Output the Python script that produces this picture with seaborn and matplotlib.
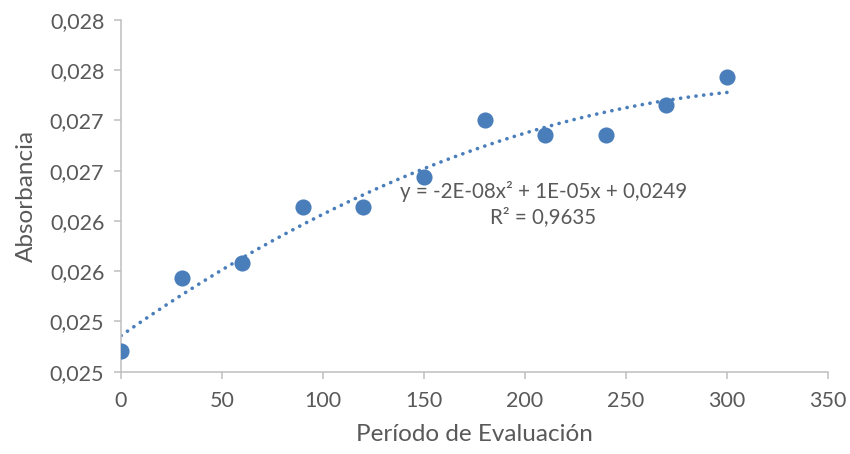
from decimal import Decimal, ROUND_HALF_UP

import numpy as np
import pandas as pd
import matplotlib
matplotlib.use("Agg")
import matplotlib.pyplot as plt
from matplotlib.ticker import FuncFormatter, MultipleLocator
import seaborn as sns

# data
periodo = [0, 30, 60, 90, 120, 150, 180, 210, 240, 270, 300]
absorbancia = [0.02471, 0.02543, 0.02558, 0.02614, 0.02614, 0.02644,
               0.02700, 0.02686, 0.02686, 0.02715, 0.02743]
eq_text = "y = -2E-08x² + 1E-05x + 0,0249"
r2_text = "R² = 0,9635"

blue = "#4A7EBB"
gray_text = "#595959"
axis_gray = "#BFBFBF"

sns.set_style("white")
plt.rcParams["font.family"] = ["Lato", "DejaVu Sans"]

df = pd.DataFrame({"x": periodo, "y": absorbancia})

# polynomial (order 2) trendline
coef = np.polyfit(df["x"], df["y"], 2)
xs = np.linspace(min(periodo), max(periodo), 200)
trend = pd.DataFrame({"x": xs, "y": np.polyval(coef, xs)})

fig = plt.figure(figsize=(8.5, 4.54), dpi=100)
ax = fig.add_axes([0.1424, 0.1813, 0.974 - 0.1424, 0.956 - 0.1813])

sns.lineplot(data=trend, x="x", y="y", ax=ax, color=blue, linewidth=2.6,
             dash_capstyle="round", linestyle=(0, (0.05, 2.1)))
sns.scatterplot(data=df, x="x", y="y", ax=ax, color=blue, s=135,
                edgecolor=blue, linewidth=0, zorder=3)

ax.set_xlim(0, 350)
ax.set_ylim(0.0245, 0.0280)
ax.xaxis.set_major_locator(MultipleLocator(50))
ax.yaxis.set_major_locator(MultipleLocator(0.0005))


def fmt_y(v, pos):
    d = Decimal(str(round(float(v), 4))).quantize(Decimal("0.001"), ROUND_HALF_UP)
    return str(d).replace(".", ",")


ax.yaxis.set_major_formatter(FuncFormatter(fmt_y))

for side in ["top", "right"]:
    ax.spines[side].set_visible(False)
for side in ["left", "bottom"]:
    ax.spines[side].set_color(axis_gray)
    ax.spines[side].set_linewidth(1.1)

ax.tick_params(axis="both", which="major", length=5, width=1.1,
               color=axis_gray, labelcolor=gray_text, labelsize=15.5,
               direction="out", left=True, bottom=True)
ax.tick_params(axis="y", pad=7)
ax.tick_params(axis="x", pad=9)

ax.set_xlabel("Período de Evaluación", fontsize=17.5, color=gray_text, labelpad=9)
ax.set_ylabel("Absorbancia", fontsize=17.5, color=gray_text, labelpad=9)

ax.text(209, 0.02629, eq_text, ha="center", va="center", fontsize=14.8,
        color=gray_text)
ax.text(209, 0.02604, r2_text, ha="center", va="center", fontsize=14.8,
        color=gray_text)

fig.savefig("out.png", dpi=100)
plt.close(fig)
